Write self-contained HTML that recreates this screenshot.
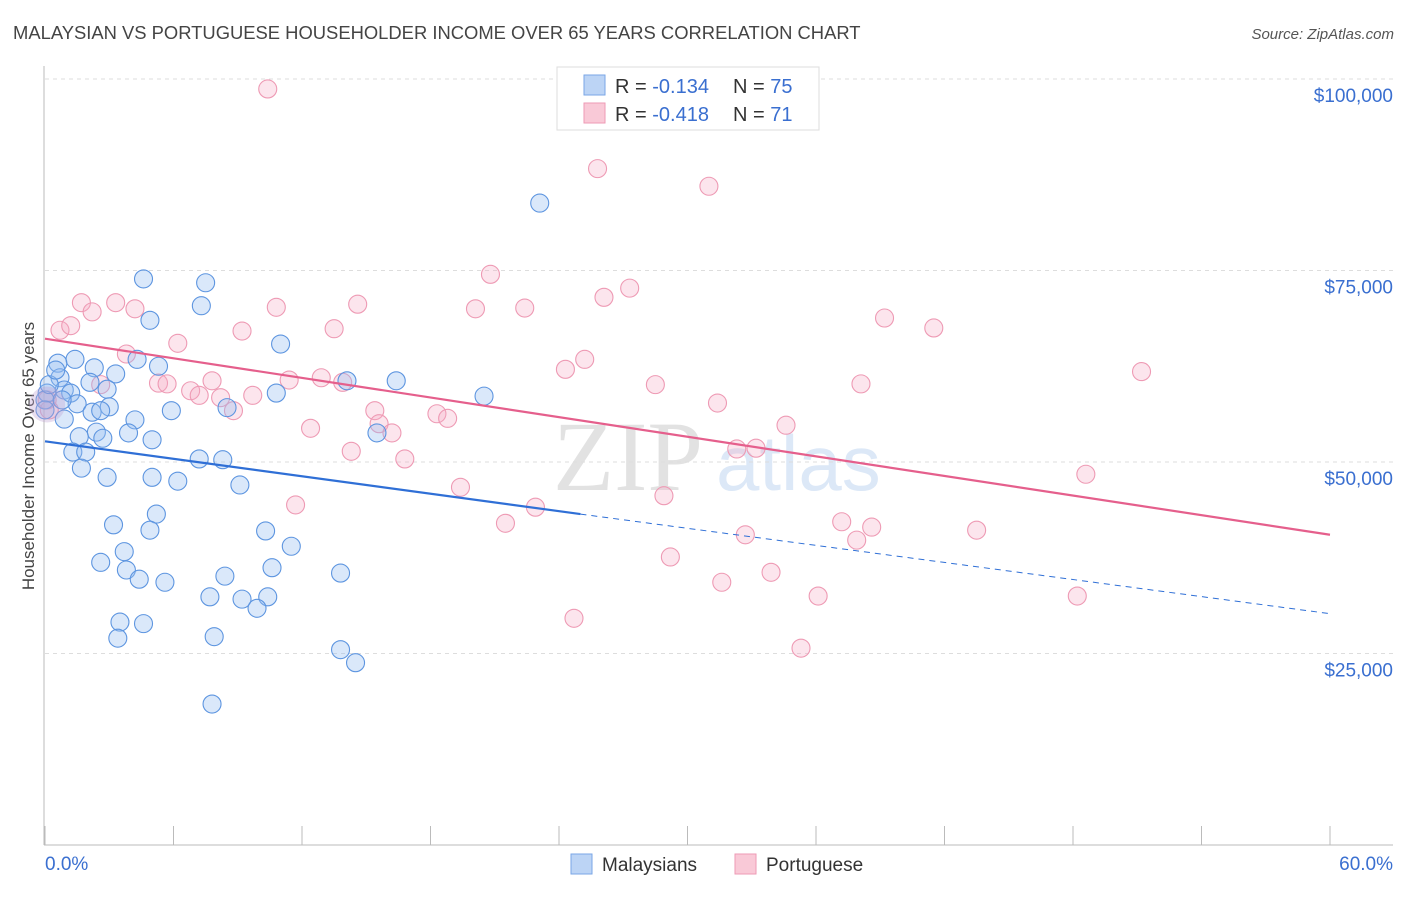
<!DOCTYPE html>
<html><head><meta charset="utf-8"><style>
body{margin:0;background:#fff;width:1406px;height:892px;overflow:hidden;font-family:"Liberation Sans",sans-serif}
</style></head><body>
<svg id="chart" width="1406" height="892" xmlns="http://www.w3.org/2000/svg">
<text x="13" y="39" font-size="18.4" fill="#444">MALAYSIAN VS PORTUGUESE HOUSEHOLDER INCOME OVER 65 YEARS CORRELATION CHART</text>
<text x="1394" y="39" font-size="15" fill="#555" font-style="italic" text-anchor="end">Source: ZipAtlas.com</text>
<text transform="translate(34,456) rotate(-90)" font-size="17" fill="#444" text-anchor="middle">Householder Income Over 65 years</text>
<g>
<text x="553" y="490" font-family="Liberation Serif,serif" font-size="100" fill="#e2e2e2">ZIP</text>
<text x="716" y="490" font-size="78" fill="#dce8f7">atlas</text>
</g>
<g id="grid"></g>
<g id="axes"></g>
<g id="pts"></g>
<g id="trends"></g>
<g>
<rect x="557" y="67" width="262" height="63" fill="#fff" stroke="#ddd"/>
<rect x="584" y="75" width="21" height="20" fill="#bcd4f5" stroke="#7aa6e6"/>
<rect x="584" y="103" width="21" height="20" fill="#f9c9d7" stroke="#ee9ab4"/>
<text x="615" y="93" font-size="20" fill="#333">R = <tspan fill="#3a6fd0">-0.134</tspan></text>
<text x="733" y="93" font-size="20" fill="#333">N = <tspan fill="#3a6fd0">75</tspan></text>
<text x="615" y="121" font-size="20" fill="#333">R = <tspan fill="#3a6fd0">-0.418</tspan></text>
<text x="733" y="121" font-size="20" fill="#333">N = <tspan fill="#3a6fd0"> 71</tspan></text>
</g>
<g>
<rect x="571" y="854" width="21" height="20" fill="#bcd4f5" stroke="#7aa6e6"/>
<text x="602" y="871" font-size="19" fill="#333">Malaysians</text>
<rect x="735" y="854" width="21" height="20" fill="#f9c9d7" stroke="#ee9ab4"/>
<text x="766" y="871" font-size="19" fill="#333">Portuguese</text>
</g>
</svg>
<script>
const xTicks=[0,6,12,18,24,30,36,42,48,54,60];
const yTicks=[25,50,75,100];
const yTickLabels=["$25,000","$50,000","$75,000","$100,000"];
const malX=[23.1,4.6,7.5,7.3,4.9,11.0,1.4,0.6,4.3,5.3,2.3,3.3,0.7,2.1,14.1,16.4,0.9,2.9,1.2,0.1,10.8,20.5,1.5,3.0,5.9,2.2,2.6,8.5,0.9,4.2,2.4,3.9,1.6,2.7,5.0,15.5,1.3,1.9,7.2,8.3,1.7,2.9,5.0,6.2,9.1,5.2,3.2,4.9,10.3,11.5,3.7,2.6,3.8,10.6,13.8,4.4,5.6,8.4,7.7,9.2,10.4,9.9,3.5,4.6,3.4,7.9,13.8,14.5,7.8,0,0.2,0.5,0.8,0];
const malY=[83.8,73.9,73.4,70.4,68.5,65.4,63.4,62.9,63.4,62.5,62.3,61.5,61.0,60.4,60.6,60.6,59.4,59.5,59.0,59.0,59.0,58.6,57.6,57.2,56.7,56.5,56.7,57.1,55.6,55.5,53.9,53.8,53.3,53.1,52.9,53.8,51.3,51.3,50.4,50.3,49.2,48.0,48.0,47.5,47.0,43.2,41.8,41.1,41.0,39.0,38.3,36.9,35.9,36.2,35.5,34.7,34.3,35.1,32.4,32.1,32.4,30.9,29.1,28.9,27.0,27.2,25.5,23.8,18.4,58.1,60.1,62.0,58.1,56.8];
const porX=[10.4,25.8,31.0,20.8,26.1,27.3,1.7,3.3,4.2,2.2,10.8,14.6,20.1,22.4,39.2,41.5,0.7,1.2,9.2,13.5,6.2,25.2,3.8,24.3,51.2,5.3,5.7,7.8,11.4,12.9,13.9,28.5,38.1,6.8,7.2,8.2,9.7,8.8,15.4,18.3,18.8,12.4,15.6,16.2,31.4,34.6,16.8,14.3,32.3,33.2,48.6,11.7,19.4,28.9,22.9,21.5,37.2,38.6,37.9,43.5,32.7,29.2,31.6,33.9,36.1,48.2,24.7,35.3,0.1,0.2,2.6];
const porY=[98.7,88.3,86.0,74.5,71.5,72.7,70.8,70.8,70.0,69.6,70.2,70.6,70.0,70.1,68.8,67.5,67.2,67.8,67.1,67.4,65.5,63.4,64.1,62.1,61.8,60.3,60.2,60.6,60.7,61.0,60.4,60.1,60.2,59.3,58.7,58.4,58.7,56.7,56.7,56.3,55.7,54.4,55.0,53.8,57.7,54.8,50.4,51.4,51.7,51.8,48.4,44.4,46.7,45.6,44.1,42.0,42.2,41.5,39.8,41.1,40.5,37.6,34.3,35.6,32.5,32.5,29.6,25.7,58.1,56.8,60.1];
const malTrend=[52.7,43.2,30.2];
const malTrendX=[0,25,60];
const porTrend=[66.1,40.5];
const porTrendX=[0,60];

const NS="http://www.w3.org/2000/svg";
const X0=45,X1=1330,YB=845,PXK=191.5/25;
const sx=v=>X0+(v/60)*(X1-X0);
const sy=v=>YB-v*PXK;
function mk(t,a,p){const e=document.createElementNS(NS,t);for(const k in a)e.setAttribute(k,a[k]);p.appendChild(e);return e;}
const grid=document.getElementById('grid'),axes=document.getElementById('axes'),pts=document.getElementById('pts'),tr=document.getElementById('trends');
yTicks.forEach((v,i)=>{
 const l=mk('line',{x1:45,x2:1393,y1:sy(v),y2:sy(v),stroke:'#ddd','stroke-dasharray':'4,4'},grid);
 
 
 const t=mk('text',{x:1393,y:sy(v)+23,'font-size':19,fill:'#3a6fd0','text-anchor':'end'},axes);
 t.textContent=yTickLabels[i];
 
 
});
const ya=mk('line',{x1:44,x2:44,y1:66,y2:845,stroke:'#bbb'},axes);


const xa=mk('line',{x1:44,x2:1393,y1:845,y2:845,stroke:'#bbb'},axes);


xTicks.forEach(v=>{
 const l=mk('line',{x1:sx(v),x2:sx(v),y1:826,y2:845,stroke:'#bbb'},axes);
 
 
});
const xl0=mk('text',{x:45,y:870,'font-size':19,fill:'#3a6fd0'},axes);xl0.textContent=xTicks[0].toFixed(1)+'%';


const xl1=mk('text',{x:1393,y:870,'font-size':19,fill:'#3a6fd0','text-anchor':'end'},axes);xl1.textContent=xTicks[xTicks.length-1].toFixed(1)+'%';


porX.forEach((x,i)=>{
 const c=mk('circle',{cx:sx(x),cy:sy(porY[i]),r:9,fill:'rgba(246,170,195,0.3)',stroke:'#ee9ab4','stroke-width':1.1},pts);
 
 
});
malX.forEach((x,i)=>{
 const c=mk('circle',{cx:sx(x),cy:sy(malY[i]),r:9,fill:'rgba(150,190,240,0.35)',stroke:'#5d95e0','stroke-width':1.1},pts);
 
 
});
const big=mk('circle',{cx:sx(0.1),cy:sy(57.5),r:18,fill:'rgba(190,160,210,0.35)',stroke:'none'},pts);


const b1=mk('line',{x1:sx(malTrendX[0]),y1:sy(malTrend[0]),x2:sx(malTrendX[1]),y2:sy(malTrend[1]),stroke:'#2f6fd6','stroke-width':2.2},tr);


const b2=mk('line',{x1:sx(malTrendX[1]),y1:sy(malTrend[1]),x2:sx(malTrendX[2]),y2:sy(malTrend[2]),stroke:'#2f6fd6','stroke-width':1,'stroke-dasharray':'6,5'},tr);


const p1=mk('line',{x1:sx(porTrendX[0]),y1:sy(porTrend[0]),x2:sx(porTrendX[1]),y2:sy(porTrend[1]),stroke:'#e55f8c','stroke-width':2.2},tr);


</script>
</body></html>
